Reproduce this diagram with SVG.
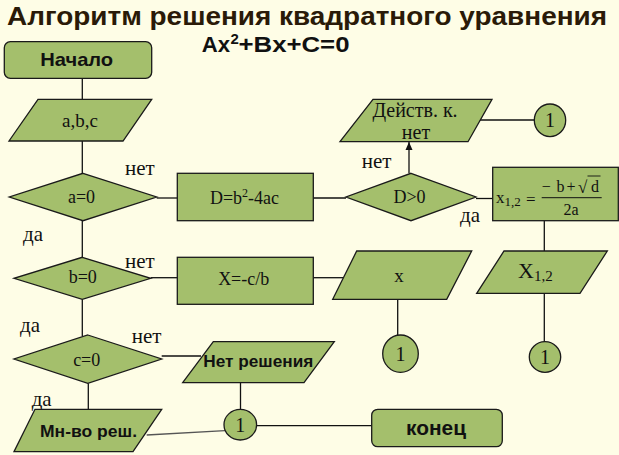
<svg xmlns="http://www.w3.org/2000/svg" width="619" height="455" viewBox="0 0 619 455">
<defs>
<style>
.bg{fill:#fefde6}
.n{fill:#a4bf6c;stroke:#1a1a1a;stroke-width:1.3}
.c{fill:none;stroke:#111;stroke-width:1.3}
.s{font-family:"Liberation Serif","Times New Roman",serif;fill:#111}
.b{font-family:"Liberation Sans",Arial,sans-serif;font-weight:bold;fill:#111}
.lbl{font-family:"Liberation Serif","Times New Roman",serif;font-size:21px;fill:#111}
.m{text-anchor:middle}
</style>
<marker id="ar" viewBox="0 0 8 10" refX="8" refY="5" markerWidth="8" markerHeight="10" markerUnits="userSpaceOnUse" orient="auto">
<path d="M0,1.5 L8,5 L0,8.5 Z" fill="#111"/>
</marker>
</defs>
<rect class="bg" x="0" y="0" width="619" height="455"/>
<g id="title">
<text class="b" x="7" y="25" font-size="26" style="fill:#2a1a08" textLength="600" lengthAdjust="spacingAndGlyphs">Алгоритм решения квадратного уравнения</text>
<text class="b" x="201.7" y="51.7" font-size="22" textLength="28.3" lengthAdjust="spacingAndGlyphs">Ax</text>
<text class="b" x="230.5" y="44" font-size="15">2</text>
<text class="b" x="238.5" y="51.7" font-size="22" textLength="111" lengthAdjust="spacingAndGlyphs">+Bx+C=0</text>
</g>
<g id="connectors">
<line class="c" x1="82.3" y1="78.3" x2="82.3" y2="99.3"/>
<line class="c" x1="82.3" y1="141" x2="82.3" y2="173.3"/>
<line class="c" x1="156.7" y1="198" x2="177.3" y2="198"/>
<line class="c" x1="313.3" y1="198" x2="346" y2="198"/>
<line class="c" x1="409" y1="173.3" x2="409" y2="142" marker-end="url(#ar)"/>
<line class="c" x1="476" y1="198.5" x2="492.7" y2="198.5"/>
<line class="c" x1="477" y1="120" x2="534.3" y2="120"/>
<line class="c" x1="544.3" y1="220.7" x2="544.3" y2="251"/>
<line class="c" x1="544.3" y1="293.3" x2="544.3" y2="341.7"/>
<line class="c" x1="82.3" y1="220.7" x2="82.3" y2="257.3"/>
<line class="c" x1="150.7" y1="277.7" x2="177.3" y2="277.7"/>
<line class="c" x1="313.3" y1="277.7" x2="345" y2="277.7"/>
<line class="c" x1="397.7" y1="299.3" x2="397.7" y2="335"/>
<line class="c" x1="82.3" y1="299.3" x2="82.3" y2="336"/>
<line class="c" x1="161.7" y1="356" x2="201" y2="356"/>
<line class="c" x1="240.5" y1="382.7" x2="240.5" y2="409.3"/>
<line class="c" x1="88.3" y1="383.3" x2="88.3" y2="409.3"/>
<line x1="146.7" y1="435" x2="225" y2="430.7" stroke="#555" stroke-width="1.3"/>
<line class="c" x1="256.7" y1="425.7" x2="371.7" y2="425.7"/>
</g>
<g id="labels">
<text class="lbl" x="125" y="175">нет</text>
<text class="lbl" x="23" y="240.7">да</text>
<text class="lbl" x="125" y="268">нет</text>
<text class="lbl" x="20" y="331.7">да</text>
<text class="lbl" x="131.7" y="342.7">нет</text>
<text class="lbl" x="31.7" y="406">да</text>
<text class="lbl" x="361.7" y="168.3">нет</text>
<text class="lbl" x="460" y="221.7">да</text>
</g>
<g id="start">
<rect class="n" x="4.3" y="41.7" width="147.4" height="36.6" rx="6"/>
<text class="b m" x="76.7" y="66" font-size="19" textLength="73" lengthAdjust="spacingAndGlyphs">Начало</text>
</g>
<g id="input">
<polygon class="n" points="38,99.3 151.7,99.3 123,141 9,141"/>
<text class="s m" x="80" y="126.7" font-size="19">a,b,c</text>
</g>
<g id="cond-a">
<polygon class="n" points="83,173.3 156.7,197 83,220.7 9.3,197"/>
<text class="s m" x="81.5" y="203.3" font-size="18">a=0</text>
</g>
<g id="disc">
<rect class="n" x="177.3" y="173.3" width="136" height="47.4"/>
<text class="s m" x="244.5" y="204" font-size="18">D=b<tspan font-size="12" dy="-7">2</tspan><tspan dy="7">-4ac</tspan></text>
</g>
<g id="cond-d">
<polygon class="n" points="411,173.3 476,197 411,220.7 346,197"/>
<text class="s m" x="409.5" y="203.3" font-size="18">D&gt;0</text>
</g>
<g id="no-roots">
<polygon class="n" points="373,99.3 492,99.3 468,141.7 340,141.7"/>
<text class="s m" x="415" y="116.7" font-size="20">Действ. к.</text>
<text class="s m" x="416" y="139.3" font-size="20">нет</text>
</g>
<g id="conn-top">
<ellipse class="n" cx="550" cy="120.3" rx="15.7" ry="16.3"/>
<text class="s m" x="550" y="127.3" font-size="20">1</text>
</g>
<g id="formula">
<rect class="n" x="492.7" y="167.3" width="125.6" height="53.4"/>
<text class="s" x="496" y="203.3" font-size="17">x<tspan font-size="13" dy="2.4">1,2</tspan></text>
<text class="s" x="526" y="204.5" font-size="17">=</text>
<line x1="541.7" y1="197.7" x2="601.7" y2="197.7" stroke="#111" stroke-width="1"/>
<text class="s" x="541.7" y="192.3" font-size="16">−</text>
<text class="s" x="556.5" y="192.3" font-size="16">b</text>
<text class="s" x="566.5" y="192.3" font-size="16">+</text>
<text class="s" x="578" y="193" font-size="17">√</text>
<line x1="587.5" y1="176" x2="600.5" y2="176" stroke="#111" stroke-width="0.9"/>
<text class="s" x="591" y="192.3" font-size="16">d</text>
<text class="s m" x="571" y="215" font-size="16">2a</text>
</g>
<g id="out-x12">
<polygon class="n" points="504,251 607.3,251 580,293.3 476.7,293.3"/>
<text class="s" x="518" y="278.3" font-size="22">X<tspan font-size="15" dy="3">1,2</tspan></text>
</g>
<g id="conn-x12">
<ellipse class="n" cx="545" cy="357" rx="15.7" ry="15.3"/>
<text class="s m" x="545" y="364" font-size="20">1</text>
</g>
<g id="cond-b">
<polygon class="n" points="82.3,257.3 150.7,278.3 82.3,299.3 14,278.3"/>
<text class="s m" x="82.8" y="283.3" font-size="18">b=0</text>
</g>
<g id="linear">
<rect class="n" x="177.3" y="257.3" width="136" height="47"/>
<text class="s m" x="243.7" y="285" font-size="18">X=-c/b</text>
</g>
<g id="out-x">
<polygon class="n" points="356.7,251 471.7,251 446.7,299.3 332.7,299.3"/>
<text class="s m" x="399" y="281.7" font-size="19">x</text>
</g>
<g id="conn-x">
<ellipse class="n" cx="400.5" cy="353.7" rx="17.8" ry="18.7"/>
<text class="s m" x="400.5" y="360.7" font-size="20">1</text>
</g>
<g id="cond-c">
<polygon class="n" points="87.8,335 161.7,359 87.8,383.3 14,359"/>
<text class="s m" x="86.7" y="365.7" font-size="18">c=0</text>
</g>
<g id="no-solution">
<polygon class="n" points="213.3,341.7 334.3,341.7 304,382.7 182.7,382.7"/>
<text class="b" x="203.3" y="366.7" font-size="16.5" textLength="110" lengthAdjust="spacingAndGlyphs">Нет решения</text>
</g>
<g id="many-solutions">
<polygon class="n" points="35,409.3 161.7,409.3 133,451.7 14,451.7"/>
<text class="b" x="40" y="436.7" font-size="17" textLength="97" lengthAdjust="spacingAndGlyphs">Мн-во реш.</text>
</g>
<g id="conn-bottom">
<ellipse class="n" cx="240.3" cy="424.7" rx="16.3" ry="15.3"/>
<text class="s m" x="240.3" y="431.7" font-size="20">1</text>
</g>
<g id="end">
<rect class="n" x="371.7" y="409.3" width="130.6" height="37.4" rx="6"/>
<text class="b" x="406" y="435" font-size="20" textLength="60" lengthAdjust="spacingAndGlyphs">конец</text>
</g>
</svg>
